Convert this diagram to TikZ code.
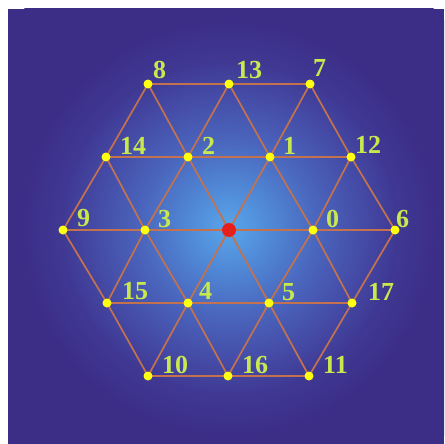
\documentclass[tikz,border=0pt]{standalone}
\usepackage{fontspec}
\setmainfont{Liberation Serif}
\usetikzlibrary{backgrounds}
\definecolor{bgblue}{HTML}{3C2D87}
\definecolor{gA}{HTML}{58A6EA}
\definecolor{gB}{HTML}{5088D6}
\definecolor{gC}{HTML}{4A64BC}
\definecolor{gD}{HTML}{4449A4}
\definecolor{gE}{HTML}{3F3893}
\definecolor{edgecol}{HTML}{C4724E}
\definecolor{labcol}{HTML}{C8E84E}
\definecolor{dotcol}{HTML}{FFFF10}
\definecolor{redcol}{HTML}{E8201C}
\pgfdeclareradialshading{glow}{\pgfpoint{0bp}{0bp}}{color(0bp)=(gA); color(3.5bp)=(gB); color(7.5bp)=(gC); color(11.5bp)=(gD); color(14bp)=(gE); color(17.5bp)=(bgblue); color(50bp)=(bgblue)}
\tikzset{
  dot/.style={circle,fill=dotcol,inner sep=0pt,minimum size=9pt},
  hub/.style={circle,fill=redcol,inner sep=0pt,minimum size=14pt},
  lab/.style={anchor=base west,inner sep=0pt,text=labcol,font=\fontsize{26}{30}\selectfont\bfseries},
  lattice/.style={draw=edgecol,line width=1.7pt}
}
\begin{document}
\begin{tikzpicture}[x=1pt,y=-1pt]
\useasboundingbox (0,0) rectangle (444,444);
% dots
\node[hub] (c) at (229,230) {};
\node[dot] (n0) at (313,230) {};
\node[dot] (n3) at (145,230) {};
\node[dot] (n9) at (63,230) {};
\node[dot] (n6) at (395,230) {};
\node[dot] (n14) at (106,157) {};
\node[dot] (n2) at (188,157) {};
\node[dot] (n1) at (270,157) {};
\node[dot] (n12) at (351,157) {};
\node[dot] (n8) at (148,84) {};
\node[dot] (n13) at (229,84) {};
\node[dot] (n7) at (310,84) {};
\node[dot] (n15) at (107,303) {};
\node[dot] (n4) at (188,303) {};
\node[dot] (n5) at (269,303) {};
\node[dot] (n17) at (352,303) {};
\node[dot] (n10) at (148,376) {};
\node[dot] (n16) at (228,376) {};
\node[dot] (n11) at (309,376) {};
% labels
\node[lab] (l8) at (153,78) {8};
\node[lab] (l13) at (236,78) {13};
\node[lab] (l7) at (313,77) {7};
\node[lab] (l14) at (120,154) {14};
\node[lab] (l2) at (202,154) {2};
\node[lab] (l1) at (283,154) {1};
\node[lab] (l12) at (355,153) {12};
\node[lab] (l9) at (77,226) {9};
\node[lab] (l3) at (158,227) {3};
\node[lab] (l0) at (326,227) {0};
\node[lab] (l6) at (396,227) {6};
\node[lab] (l15) at (122,299) {15};
\node[lab] (l4) at (199,299) {4};
\node[lab] (l5) at (282,300) {5};
\node[lab] (l17) at (368,300) {17};
\node[lab] (l10) at (162,373) {10};
\node[lab] (l16) at (242,373) {16};
\node[lab] (l11) at (323,373) {11};
\begin{pgfonlayer}{background}
  \fill[white] (0,0) rectangle (444,444);
  \fill[bgblue] (8,9) rectangle (444,444);
  \begin{scope}
    \clip (8,9) rectangle (444,444);
    \shade[shading=glow] (229,228) circle[radius=300];
  \end{scope}
  % horizontal rows
  \draw[lattice] (n8.center) -- (n13.center) -- (n7.center);
  \draw[lattice] (n14.center) -- (n2.center) -- (n1.center) -- (n12.center);
  \draw[lattice] (n9.center) -- (n3.center) -- (c.center) -- (n0.center) -- (n6.center);
  \draw[lattice] (n15.center) -- (n4.center) -- (n5.center) -- (n17.center);
  \draw[lattice] (n10.center) -- (n16.center) -- (n11.center);
  % "/" diagonals
  \draw[lattice] (n9.center) -- (n14.center) -- (n8.center);
  \draw[lattice] (n15.center) -- (n3.center) -- (n2.center) -- (n13.center);
  \draw[lattice] (n10.center) -- (n4.center) -- (c.center) -- (n1.center) -- (n7.center);
  \draw[lattice] (n16.center) -- (n5.center) -- (n0.center) -- (n12.center);
  \draw[lattice] (n11.center) -- (n17.center) -- (n6.center);
  % "\" diagonals
  \draw[lattice] (n9.center) -- (n15.center) -- (n10.center);
  \draw[lattice] (n14.center) -- (n3.center) -- (n4.center) -- (n16.center);
  \draw[lattice] (n8.center) -- (n2.center) -- (c.center) -- (n5.center) -- (n11.center);
  \draw[lattice] (n13.center) -- (n1.center) -- (n0.center) -- (n17.center);
  \draw[lattice] (n7.center) -- (n12.center) -- (n6.center);
\end{pgfonlayer}
\end{tikzpicture}
\end{document}
